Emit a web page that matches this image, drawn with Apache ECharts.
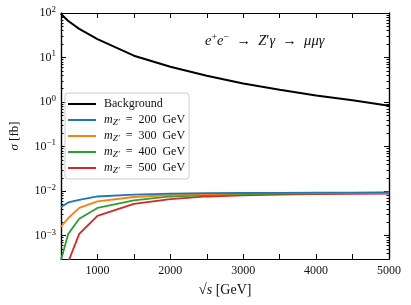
<!DOCTYPE html>
<html><head><meta charset="utf-8">
<script src="https://cdn.jsdelivr.net/npm/echarts@6/dist/echarts.min.js"></script>
<style>html,body{margin:0;padding:0;background:#fff}#c{width:411px;height:305px}</style>
</head><body><div id="c"></div>
<script>
const sqrtS = [500, 600, 750, 1000, 1500, 2000, 2500, 3000, 3500, 4000, 4500, 5000];
const background = [95, 66, 44, 26, 11, 6.2, 3.9, 2.6, 1.9, 1.4, 1.1, 0.83];
const mz200 = [4.4e-3, 5.6e-3, 6.4e-3, 7.6e-3, 8.4e-3, 8.8e-3, 9.0e-3, 9.1e-3, 9.2e-3, 9.3e-3, 9.3e-3, 9.4e-3];
const mz300 = [1.6e-3, 2.5e-3, 4.2e-3, 5.9e-3, 7.4e-3, 8.2e-3, 8.6e-3, 8.9e-3, 9.0e-3, 9.1e-3, 9.2e-3, 9.3e-3];
const mz400 = [2.9e-4, 1.1e-3, 2.4e-3, 4.2e-3, 6.2e-3, 7.6e-3, 8.2e-3, 8.6e-3, 8.8e-3, 8.9e-3, 9.0e-3, 9.1e-3];
const mz500 = [1.0e-4, 2.6e-4, 1.1e-3, 2.8e-3, 5.2e-3, 6.6e-3, 7.6e-3, 8.1e-3, 8.4e-3, 8.6e-3, 8.7e-3, 8.8e-3];
const seriesNames = ['Background', 'mZ200', 'mZ300', 'mZ400', 'mZ500'];
const EN = '\u2002';
const legendLabels = {
  'Background': 'Background',
  'mZ200': '{i|m}{sub|Z′}' + EN + '=' + EN + '200' + EN + 'GeV',
  'mZ300': '{i|m}{sub|Z′}' + EN + '=' + EN + '300' + EN + 'GeV',
  'mZ400': '{i|m}{sub|Z′}' + EN + '=' + EN + '400' + EN + 'GeV',
  'mZ500': '{i|m}{sub|Z′}' + EN + '=' + EN + '500' + EN + 'GeV'
};
const yMajor = [1e-3, 1e-2, 1e-1, 1, 10, 100];
const yMinor = [];
[1e-4, 1e-3, 1e-2, 1e-1, 1, 10].forEach(d => { for (let k = 2; k <= 9; k++) { const v = k * d; if (v >= 3e-4 && v <= 100) yMinor.push(v); } });
const colors = ['#000000', '#1f77b4', '#ff7f0e', '#2ca02c', '#d62728'];
const allData = [background, mz200, mz300, mz400, mz500];

const FONT = 'Liberation Serif';
const supFmt = v => {
  const e = Math.round(Math.log10(v));
  return '{b|10}{s|' + String(e).replace('-', '−') + '}';
};
const richLbl = {
  b: { fontFamily: FONT, fontSize: 12, color: '#111' },
  s: { fontFamily: FONT, fontSize: 9, color: '#111', padding: [0, 0, 7, 0] }
};
const yBase = (pos, major, showLabel) => ({
  type: 'log', logBase: 10, min: 3e-4, max: 100, position: pos,
  axisLine: { show: true, lineStyle: { color: '#000', width: 1.2 } },
  splitLine: { show: false },
  axisTick: { show: true, inside: true, length: major ? 5 : 2.5, lineStyle: { color: '#000', width: 1 },
    customValues: major ? yMajor : yMinor },
  axisLabel: showLabel ? { show: true, customValues: yMajor, formatter: supFmt, rich: richLbl, margin: 5 } : { show: false },
  minorTick: { show: false }
});
const xBase = (pos, showLabel) => ({
  type: 'value', min: 500, max: 5000, interval: 500, position: pos,
  axisLine: { show: true, lineStyle: { color: '#000', width: 1.2 } },
  splitLine: { show: false },
  axisTick: { show: true, inside: true, length: 5, lineStyle: { color: '#000', width: 1 } },
  axisLabel: showLabel ? { show: true, fontFamily: FONT, fontSize: 12, color: '#111', margin: 6,
    formatter: v => (v % 1000 === 0 ? String(v) : '') } : { show: false }
});

const chart = echarts.init(document.getElementById('c'), null, { renderer: 'canvas' });
const xAxisBottom = xBase('bottom', true);
xAxisBottom.name = '{r|√}{o|s} [GeV]';
xAxisBottom.nameLocation = 'middle';
xAxisBottom.nameGap = 24;
xAxisBottom.nameTextStyle = { fontFamily: FONT, fontSize: 14, color: '#111',
  rich: { r: { fontFamily: FONT, fontSize: 15, color: '#111' }, o: { fontFamily: FONT, fontSize: 14, fontStyle: 'italic', color: '#111' } } };
const yAxisMain = yBase('left', true, true);
yAxisMain.name = '{i|σ} [fb]';
yAxisMain.nameLocation = 'middle';
yAxisMain.nameGap = 40;
yAxisMain.nameTextStyle = { fontFamily: FONT, fontSize: 13, color: '#111',
  rich: { i: { fontFamily: FONT, fontSize: 13, fontStyle: 'italic', color: '#111' } } };

chart.setOption({
  animation: false,
  backgroundColor: '#fff',
  grid: { left: 60, right: 22, top: 13, bottom: 46 },
  title: {
    text: '{i|e}{sp|+}{i|e}{sp|−}' + EN + '→' + EN + '{i|Z}′{i|γ}' + EN + '→' + EN + '{i|μμγ}',
    left: 205, top: 32, padding: 0,
    textStyle: { fontFamily: FONT, fontSize: 14.5, fontWeight: 'normal', color: '#111',
      rich: { i: { fontFamily: FONT, fontSize: 14.5, fontStyle: 'italic', color: '#111' },
              sp: { fontFamily: FONT, fontSize: 10, color: '#111', padding: [0, 0, 8, 0] } } }
  },
  legend: {
    orient: 'vertical', left: 65, top: 93,
    data: seriesNames.map(n => ({ name: n, icon: 'rect' })),
    itemWidth: 28, itemHeight: 2, itemGap: 2,
    padding: [4, 4, 4, 3],
    backgroundColor: 'rgba(255,255,255,0.85)', borderColor: '#cccccc', borderWidth: 1, borderRadius: 3,
    formatter: n => legendLabels[n],
    textStyle: { fontFamily: FONT, fontSize: 12, color: '#111', lineHeight: 14, padding: [0, 0, 0, 3],
      rich: { i: { fontFamily: FONT, fontSize: 12, fontStyle: 'italic', color: '#111', lineHeight: 14 },
              sub: { fontFamily: FONT, fontSize: 9, fontStyle: 'italic', color: '#111', lineHeight: 14, padding: [5, 0, 0, 0] } } }
  },
  xAxis: [xAxisBottom, xBase('top', false)],
  yAxis: [yAxisMain, yBase('left', false, false), yBase('right', true, false), yBase('right', false, false)],
  series: seriesNames.map((n, i) => ({
    name: n, type: 'line', xAxisIndex: 0, yAxisIndex: 0,
    data: sqrtS.map((x, j) => [x, allData[i][j]]),
    showSymbol: false, symbol: 'none',
    lineStyle: { color: colors[i], width: i === 0 ? 2 : 1.8 },
    itemStyle: { color: colors[i] },
    clip: true, z: 5 - i
  }))
});
</script></body></html>
